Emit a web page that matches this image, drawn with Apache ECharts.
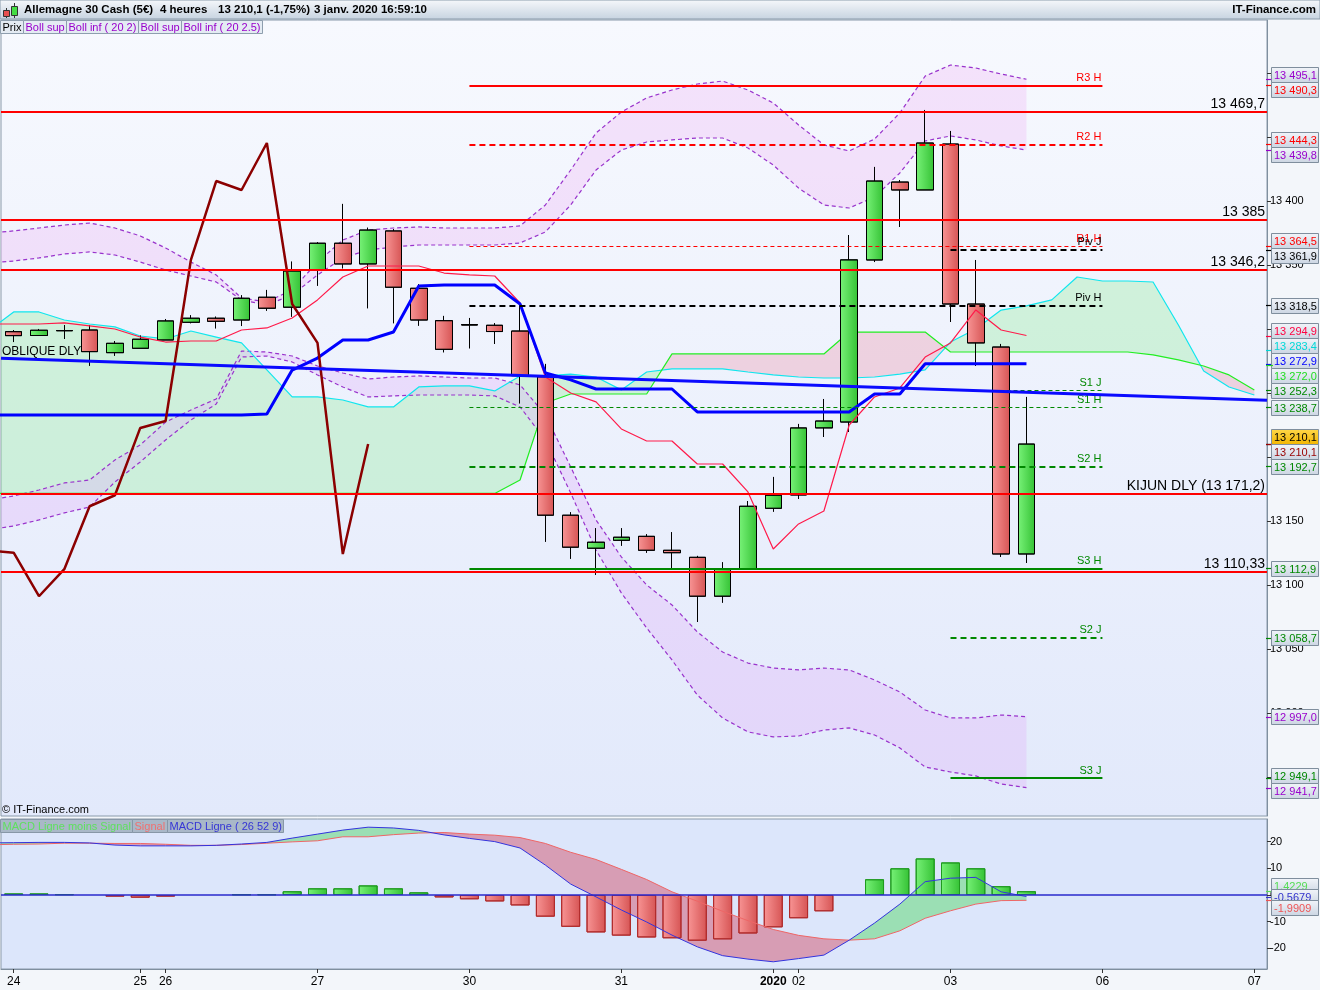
<!DOCTYPE html>
<html><head><meta charset="utf-8">
<script src="https://cdn.jsdelivr.net/npm/echarts@6/dist/echarts.min.js"></script>
<style>html,body{margin:0;padding:0;background:#f3f6fa}#c{width:1320px;height:990px}</style>
</head><body><div id="c"></div>
<script>
// ---------------- DATA ----------------
const categories = ['24/12 #1','24/12 #2','24/12 #3','24/12 #4','24/12 #5','25/12 #1',
 '26/12 #1','26/12 #2','26/12 #3','26/12 #4','26/12 #5','26/12 #6',
 '27/12 #1','27/12 #2','27/12 #3','27/12 #4','27/12 #5','27/12 #6',
 '30/12 #1','30/12 #2','30/12 #3','30/12 #4','30/12 #5','30/12 #6',
 '31/12 #1','31/12 #2','31/12 #3','31/12 #4','31/12 #5','31/12 #6',
 '01/01 #1','02/01 #1','02/01 #2','02/01 #3','02/01 #4','02/01 #5','02/01 #6',
 '03/01 #1','03/01 #2','03/01 #3','03/01 #4','03/01 #5','03/01 #6',
 '06/01 #1','06/01 #2','06/01 #3','06/01 #4','06/01 #5','06/01 #6','07/01 #1'];
const xTickIndex = [0,5,6,12,18,24,30,31,37,43,49];
const xTickText = ['24','25','26','27','30','31','2020','02','03','06','07'];
const priceTicks = [12950,13000,13050,13100,13150,13200,13250,13300,13350,13400,13450,13500];
const macdTicks = [-20,-10,0,10,20];

const open  = [13297.9,13294.9,13298.8,13299.2,13281.5,13284.9,13291.4,13305.2,13308.4,13307.0,13324.8,13317.0,13346.1,13367.0,13350.8,13376.6,13331.8,13306.5,13303.4,13302.9,13298.4,13262.7,13154.5,13128.7,13134.9,13138.0,13127.1,13121.6,13091.2,13112.3,13159.9,13170.3,13222.7,13227.3,13353.9,13414.8,13408.6,13444.5,13319.5,13285.9,13124.2];
const close = [13294.8,13299.0,13298.6,13282.3,13288.8,13292.0,13306.3,13308.4,13306.0,13324.0,13316.2,13345.3,13367.0,13350.8,13377.3,13332.6,13307.0,13284.1,13303.1,13298.0,13263.5,13154.5,13129.5,13133.4,13137.3,13127.1,13125.2,13091.2,13112.3,13161.5,13170.1,13222.7,13228.1,13354.0,13415.6,13408.6,13445.3,13319.5,13289.1,13124.2,13210.1];
const low   = [13289.8,13294.9,13292.2,13271.3,13279.1,13284.9,13291.4,13304.5,13300.5,13302.3,13314.3,13309.6,13333.8,13347.4,13316.2,13304.5,13302.6,13281.8,13284.9,13288.3,13241.9,13133.8,13120.5,13107.8,13130.7,13125.2,13113.0,13071.1,13086.2,13111.7,13157.3,13167.2,13215.6,13219.5,13352.3,13379.7,13408.6,13305.5,13271.1,13121.9,13117.2];
const high  = [13299.2,13300.0,13303.1,13303.1,13290.6,13294.8,13307.8,13310.7,13309.6,13326.3,13330.5,13352.6,13367.7,13397.7,13379.1,13377.9,13334.9,13310.2,13308.6,13304.5,13318.0,13272.7,13156.8,13144.3,13144.3,13139.6,13141.2,13122.7,13117.7,13165.6,13184.4,13225.8,13245.3,13373.4,13426.6,13416.4,13471.1,13454.7,13353.9,13288.3,13246.9];

// indicator lines: first value sits one slot left of the first candle
const LINE_START = -1;
const bollSup25 = [13375.0,13376.6,13378.9,13381.2,13382.8,13378.9,13372.7,13363.3,13352.3,13342.2,13324.2,13321.1,13330.5,13352.3,13369.5,13377.3,13378.9,13379.7,13378.9,13378.9,13378.9,13380.5,13396.9,13424.2,13453.1,13469.5,13480.5,13486.7,13491.4,13493.7,13486.7,13476.6,13459.4,13443.8,13439.1,13448.4,13468.8,13497.6,13506.2,13503.9,13499.2,13495.1];
const bollSup2  = [13351.6,13353.1,13355.5,13358.6,13360.2,13357.8,13352.3,13346.1,13341.4,13336.7,13322.7,13318.7,13326.6,13342.2,13355.5,13361.7,13364.1,13365.6,13365.6,13365.6,13365.6,13367.2,13375.8,13396.9,13424.2,13439.8,13446.1,13447.7,13449.2,13449.2,13441.4,13428.1,13410.1,13396.9,13394.5,13403.1,13421.9,13446.9,13450.8,13447.7,13443.0,13439.8];
const bollInf2  = [13166.4,13169.5,13174.2,13179.7,13182.0,13197.7,13209.4,13227.3,13236.7,13245.3,13282.8,13282.0,13278.9,13271.1,13265.6,13260.9,13262.5,13263.3,13262.5,13261.7,13261.7,13256.3,13232.8,13192.2,13150.8,13121.9,13100.0,13084.4,13063.3,13047.6,13039.0,13035.1,13033.6,13035.1,13033.6,13025.8,13016.4,13002.3,12996.1,12996.1,12998.4,12997.0];
const bollInf25 = [13143.0,13146.1,13150.8,13156.3,13160.9,13180.5,13196.1,13213.3,13228.9,13241.4,13278.1,13278.9,13274.2,13264.1,13254.7,13246.9,13247.7,13248.4,13248.4,13248.4,13247.7,13239.1,13213.3,13171.9,13127.3,13093.8,13066.4,13041.4,13014.0,12996.1,12985.2,12981.3,12982.0,12986.7,12988.3,12982.8,12972.7,12957.8,12953.9,12950.8,12944.5,12941.7];
const tenkan = [13303.9,13303.9,13303.9,13304.7,13302.4,13300.0,13293.7,13289.8,13290.6,13290.6,13299.2,13300.8,13308.6,13322.7,13340.6,13349.2,13349.2,13349.2,13343.7,13342.2,13341.4,13320.3,13262.5,13250.0,13243.0,13221.9,13212.5,13212.5,13194.5,13194.5,13172.7,13128.1,13147.7,13157.8,13225.0,13246.9,13253.9,13278.1,13289.1,13314.9,13299.2,13294.9];
const kijun = [13232.8,13232.8,13232.8,13232.8,13232.8,13232.8,13232.8,13232.8,13232.8,13232.8,13232.8,13233.6,13267.9,13277.3,13291.4,13291.4,13297.6,13333.6,13334.4,13334.4,13334.4,13319.5,13265.6,13260.2,13253.1,13253.1,13253.1,13253.1,13235.2,13235.2,13235.2,13235.2,13235.2,13235.2,13235.2,13249.2,13249.2,13272.9,13272.9,13272.9,13272.9,13272.9];
const ssa = [13298.4,13313.3,13313.3,13307.0,13303.9,13301.6,13294.5,13292.2,13298.4,13293.7,13289.1,13268.0,13246.9,13246.9,13244.5,13239.1,13239.1,13254.7,13255.5,13255.5,13251.6,13263.3,13263.3,13264.8,13262.5,13252.4,13266.4,13268.8,13268.8,13268.8,13266.4,13264.1,13262.5,13261.7,13261.7,13262.5,13264.8,13268.0,13289.8,13300.0,13314.8,13318.0,13322.7,13340.6,13337.5,13337.5,13336.7,13303.1,13267.2,13254.7,13248.4];
const ssb = [13171.5,13171.5,13171.5,13171.5,13171.5,13171.5,13171.5,13171.5,13171.5,13171.5,13171.5,13171.5,13171.5,13171.5,13171.5,13171.5,13171.5,13171.5,13171.5,13171.5,13171.5,13182.0,13242.2,13249.2,13249.2,13249.2,13249.2,13280.5,13280.5,13280.5,13280.5,13280.5,13280.5,13280.5,13297.6,13297.6,13297.6,13297.6,13282.0,13282.0,13282.0,13282.0,13282.0,13282.0,13282.0,13282.0,13279.7,13275.8,13271.1,13264.1,13252.4];
const chikou = [13127.1,13125.2,13091.2,13112.3,13161.5,13170.1,13222.7,13228.1,13354.0,13415.6,13408.6,13445.3,13319.5,13289.1,13124.2,13210.1];

const obliqueX = [-0.5, 49.5];
const obliqueY = [13277.1, 13244.3];

const redLevels = [13469.7, 13385, 13346.2, 13171.2, 13110.33];
const redLevelLabels = ['13 469,7','13 385','13 346,2','KIJUN DLY (13 171,2)','13 110,33'];

const pivotHNames  = ['R3 H','R2 H','R1 H','Piv H','S1 H','S2 H','S3 H'];
const pivotHValues = [13490.3, 13444.3, 13364.5, 13318.5, 13238.7, 13192.7, 13112.9];
const pivotHFrom = 18, pivotHTo = 43;
const pivotJNames  = ['Piv J','S1 J','S2 J','S3 J'];
const pivotJValues = [13361.9, 13252.3, 13058.7, 12949.1];
const pivotJFrom = 37, pivotJTo = 43;

const macdLine = [19.5,19.6,19.7,19.7,19.5,18.7,18.4,18.4,18.4,18.6,19.1,19.7,21.3,22.8,24.3,25.4,25.1,24.2,22.5,21.2,20.0,17.6,11.2,4.1,-0.7,-5.6,-10.1,-15.0,-19.4,-22.7,-24.0,-25.0,-23.8,-22.5,-16.9,-10.5,-3.4,5.0,6.3,6.6,1.2,-0.57];
const signalLine = [18.8,19.0,19.1,19.4,19.4,19.3,19.3,19.0,18.6,18.6,18.9,19.4,19.9,20.3,21.8,21.8,22.6,23.2,23.4,22.8,22.4,21.5,19.3,16.0,13.3,9.6,5.8,1.2,-2.3,-6.1,-9.6,-12.9,-15.1,-16.4,-16.9,-16.4,-13.4,-8.7,-5.9,-3.4,-2.1,-1.99];
const macdHist = [0.6,0.6,0.3,0,-0.6,-1.0,-0.6,0,0,0.25,0.25,1.4,2.5,2.5,3.6,2.5,1.0,-0.9,-1.6,-2.4,-3.9,-8.1,-11.9,-14.0,-15.2,-15.9,-16.2,-17.1,-16.6,-14.4,-12.1,-8.7,-6.1,0,5.9,10.0,13.7,12.2,10.0,3.3,1.42];

const tagValues = [13495.1,13490.3,13444.3,13439.8,13364.5,13361.9,13318.5,13294.9,13283.4,13272.9,13272.0,13252.3,13238.7,13210.1,13210.1,13192.7,13112.9,13058.7,12997.0,12949.1,12941.7];
const macdTagValues = [1.4229, -0.5679, -1.9909];

// ---------------- STYLE / LAYOUT ----------------
const tagColors = ['#9900cc','#ff0000','#ff0000','#9900cc','#ff0000','#000000','#000000','#ff0040','#00d8d8','#0000ff','#22dd22','#008800','#008800','#000000','#990000','#008800','#008800','#008800','#9900cc','#008800','#9900cc'];
const goldTag = 13;
const macdTagColors = ['#55dd55','#3333cc','#ee5555'];
const FONT = '"Liberation Sans", Arial, sans-serif';
const PRICE_MIN = 12919.5, PRICE_MAX = 13541.4;
const MACD_MIN = -27.7, MACD_MAX = 28.46;
const G = echarts.graphic.LinearGradient;
const upFill = () => new G(0,0,1,0,[{offset:0,color:'#78f278'},{offset:1,color:'#35c235'}]);
const dnFill = () => new G(0,0,1,0,[{offset:0,color:'#f89595'},{offset:1,color:'#d65454'}]);

function seqX(start, n){ const a=[]; for(let i=0;i<n;i++) a.push(start+i); return a; }
function fmtNum(v, dec){ const s=Math.abs(v).toFixed(dec); let parts=s.split('.'); let ip=parts[0].replace(/\B(?=(\d{3})+(?!\d))/g,' '); return (v<0?'-':'')+ip+(parts[1]?','+parts[1]:''); }

function fillBetween(xs, a, b, colPos, colNeg){
  return function(params, api){
    const polys=[]; let top=[], bot=[], sign=null;
    function flush(){ if(top.length>1) polys.push({type:'polygon', shape:{points: top.concat(bot.slice().reverse())}, style:{fill: sign>0?colPos:colNeg}}); }
    for(let i=0;i<xs.length;i++){
      const d=a[i]-b[i]; const s=d>=0?1:-1;
      if(sign===null) sign=s;
      else if(s!==sign){
        const dp=a[i-1]-b[i-1]; const t=dp/(dp-d);
        const xc=xs[i-1]+t*(xs[i]-xs[i-1]); const yc=a[i-1]+t*(a[i]-a[i-1]);
        const pc=api.coord([xc,yc]);
        top.push(pc); bot.push(pc); flush();
        top=[pc]; bot=[pc]; sign=s;
      }
      top.push(api.coord([xs[i],a[i]])); bot.push(api.coord([xs[i],b[i]]));
    }
    flush();
    return {type:'group', children: polys};
  };
}

function lineSeries(xs, ys, color, width, type, xi, yi, z, id){
  return {type:'line', id:id, xAxisIndex:xi, yAxisIndex:yi, data: ys.map((y,i)=>[xs[i],y]), showSymbol:false, symbol:'none',
    lineStyle:{color:color, width:width, type:type||'solid'}, z:z||4, silent:true, clip:true, animation:false};
}

const xBoll = seqX(LINE_START, bollSup25.length);
const xCloud = seqX(LINE_START, ssa.length);
const xChikou = seqX(LINE_START, chikou.length);
const xMacd = seqX(LINE_START, macdLine.length);

function pivotStyle(name){
  const c = name[0]==='R' ? '#ff0000' : (name[0]==='S' ? '#008800' : '#000000');
  if (name.indexOf('3')>=0) return {color:c, width:2, type:'solid'};
  if (name.indexOf('1')>=0) return {color:c, width:1, type:[4,3]};
  return {color:c, width:2.2, type:[6,4]};
}
function pivotLines(names, values, from, to){
  return names.map((n,i)=>{
    const st=pivotStyle(n);
    return [{coord:[from, values[i]], lineStyle:st,
      label:{show:true, position:'insideEndTop', formatter:n, color:st.color, fontSize:11, fontFamily:FONT, distance:[1,2]}},
      {coord:[to, values[i]]}];
  });
}

const tickFn = (idx) => xTickIndex.indexOf(idx) >= 0;
const lblFn = (val, idx) => { const k=xTickIndex.indexOf(idx); if(k<0) return ''; const t=xTickText[k]; return t==='2020' ? '{b|2020}' : t; };

const chart = echarts.init(document.getElementById('c'), null, {renderer:'canvas'});
const option = {
  animation:false,
  backgroundColor:'#f3f6fa',
  textStyle:{fontFamily:FONT},
  grid:[
    {left:1, top:20, width:1266, height:796, show:true, borderColor:'#8a9aaa', borderWidth:1,
     backgroundColor:new G(0,0,0,1,[{offset:0,color:'#f7f9fe'},{offset:1,color:'#e2e9fb'}])},
    {left:1, top:819, width:1266, height:150, show:true, borderColor:'#8a9aaa', borderWidth:1, backgroundColor:'#dce6fb'}
  ],
  xAxis:[
    {type:'category', gridIndex:0, data:categories, show:false, boundaryGap:true, axisLine:{onZero:false}},
    {type:'category', gridIndex:1, data:categories, boundaryGap:true, position:'bottom',
     axisLine:{show:true, onZero:false, lineStyle:{color:'#7f8f9f'}},
     axisTick:{show:true, alignWithLabel:true, interval:tickFn, length:4, lineStyle:{color:'#333'}},
     axisLabel:{interval:tickFn, formatter:lblFn, color:'#000', fontSize:12, margin:7, fontFamily:FONT,
       rich:{b:{fontWeight:'bold', fontSize:12, color:'#000', fontFamily:FONT}}},
     splitLine:{show:false}},
    {type:'value', gridIndex:0, min:-0.5, max:49.5, show:false, axisLine:{onZero:false}},
    {type:'value', gridIndex:1, min:-0.5, max:49.5, show:false, axisLine:{onZero:false}}
  ],
  yAxis:[
    {type:'value', gridIndex:0, position:'right', min:PRICE_MIN, max:PRICE_MAX,
     axisLine:{show:true, onZero:false, lineStyle:{color:'#7f8f9f'}},
     axisTick:{show:true, customValues:priceTicks, length:4, lineStyle:{color:'#333'}},
     axisLabel:{customValues:priceTicks, formatter:(v)=>fmtNum(v,0), color:'#000', fontSize:11, margin:3, fontFamily:FONT},
     splitLine:{show:false}},
    {type:'value', gridIndex:1, position:'right', min:MACD_MIN, max:MACD_MAX,
     axisLine:{show:true, onZero:false, lineStyle:{color:'#7f8f9f'}},
     axisTick:{show:true, customValues:macdTicks, length:4, lineStyle:{color:'#333'}},
     axisLabel:{customValues:macdTicks, formatter:(v)=>String(v), color:'#000', fontSize:11, margin:3, fontFamily:FONT},
     splitLine:{show:false}}
  ],
  series:[
    // fills
    {type:'custom', xAxisIndex:2, yAxisIndex:0, z:1, silent:true, clip:true, data:[[0,13300]], encode:{x:0,y:1},
     renderItem: fillBetween(xCloud, ssa, ssb, 'rgba(140,235,150,0.32)', 'rgba(235,140,165,0.32)')},
    {type:'custom', xAxisIndex:2, yAxisIndex:0, z:1, silent:true, clip:true, data:[[0,13300]], encode:{x:0,y:1},
     renderItem: fillBetween(xBoll, bollSup25, bollSup2, 'rgba(238,180,245,0.32)', 'rgba(238,180,245,0.32)')},
    {type:'custom', xAxisIndex:2, yAxisIndex:0, z:1, silent:true, clip:true, data:[[0,13300]], encode:{x:0,y:1},
     renderItem: fillBetween(xBoll, bollInf2, bollInf25, 'rgba(225,185,250,0.38)', 'rgba(225,185,250,0.38)')},
    // bollinger
    lineSeries(xBoll, bollSup25, '#9933cc', 1.2, [4,3], 2, 0, 2),
    lineSeries(xBoll, bollSup2, '#9933cc', 1.2, [4,3], 2, 0, 2),
    lineSeries(xBoll, bollInf2, '#9933cc', 1.2, [4,3], 2, 0, 2),
    lineSeries(xBoll, bollInf25, '#9933cc', 1.2, [4,3], 2, 0, 2),
    // cloud lines
    lineSeries(xCloud, ssa, '#10e6ee', 1.2, 'solid', 2, 0, 2),
    lineSeries(xCloud, ssb, '#22ee22', 1.2, 'solid', 2, 0, 2),
    // candles
    {type:'candlestick', xAxisIndex:0, yAxisIndex:0, barWidth:17, z:3, silent:true,
     data: open.map((o,i)=>[o, close[i], low[i], high[i]]),
     itemStyle:{color:upFill(), color0:dnFill(), borderColor:'#000', borderColor0:'#000', borderWidth:1}},
    // ichimoku lines
    lineSeries(xBoll, tenkan, '#ff1a4a', 1.2, 'solid', 2, 0, 4),
    lineSeries(xBoll, kijun, '#0000ff', 3, 'solid', 2, 0, 4),
    lineSeries(xChikou, chikou, '#8b0000', 2.5, 'solid', 2, 0, 4),
    // oblique + reference levels
    Object.assign(lineSeries(obliqueX, obliqueY, '#0a0aff', 3, 'solid', 2, 0, 5, 'oblique'), {
      markLine:{silent:true, symbol:['none','none'], animation:false, z:5,
        data: redLevels.map((v,i)=>({yAxis:v, lineStyle:{color:'#ff0000', width:2, type:'solid'},
          label:{show:true, position:'insideEndTop', formatter:redLevelLabels[i], color:'#000', fontSize:14, fontFamily:FONT, distance:[2,1]}}))
          .concat(pivotLines(pivotHNames, pivotHValues, pivotHFrom, pivotHTo))
          .concat(pivotLines(pivotJNames, pivotJValues, pivotJFrom, pivotJTo))
      }
    }),
    // MACD
    {type:'custom', xAxisIndex:3, yAxisIndex:1, z:1, silent:true, clip:true, data:[[0,0]], encode:{x:0,y:1},
     renderItem: fillBetween(xMacd, macdLine, signalLine, 'rgba(90,215,110,0.5)', 'rgba(210,90,115,0.52)')},
    {type:'bar', xAxisIndex:1, yAxisIndex:1, barWidth:19, z:3, silent:true,
     data: macdHist.map(v => v===0 ? {value:0, itemStyle:{opacity:0, borderWidth:0}} :
       {value:v, itemStyle: v>0 ? {color:upFill(), borderColor:'#1f9a1f', borderWidth:1} : {color:dnFill(), borderColor:'#b02a2a', borderWidth:1}}),
     markLine:{silent:true, symbol:['none','none'], animation:false, label:{show:false},
       data:[{yAxis:0, lineStyle:{color:'#2a2acc', width:1.5, type:'solid'}}]}},
    lineSeries(xMacd, signalLine, '#ee6666', 1, 'solid', 3, 1, 4),
    lineSeries(xMacd, macdLine, '#3333dd', 1, 'solid', 3, 1, 4)
  ]
};
chart.setOption(option);

// ---------------- overlay texts / tags ----------------
const mctx = document.createElement('canvas').getContext('2d');
function textW(t, font){ mctx.font = font; return mctx.measureText(t).width; }

function relax(items, gap, lo, hi){
  items.forEach((t,i)=>{ t.p=t.y; t.k=i; });
  for(let it=0; it<300; it++){
    const s = items.slice().sort((a,b)=> (a.p-b.p) || (a.k-b.k));
    let moved=false;
    for(let i=1;i<s.length;i++){
      const d=s[i].p-s[i-1].p;
      if(d<gap-0.01){ const o=(gap-d)/2; s[i-1].p-=o; s[i].p+=o; moved=true; }
    }
    s.forEach(t=>{ t.p=Math.max(lo, Math.min(hi, t.p)); });
    if(!moved) break;
  }
}

const gr = [];
const hdrGrad = new G(0,0,0,1,[{offset:0,color:'#f6f8fb'},{offset:1,color:'#c6d3e0'}]);
gr.push({type:'rect', z:100, shape:{x:0,y:0,width:1320,height:19}, style:{fill:hdrGrad, stroke:'#8a9bab', lineWidth:1}});
// icon
gr.push({type:'line', z:101, shape:{x1:6.5,y1:8,x2:6.5,y2:18}, style:{stroke:'#333', lineWidth:1}});
gr.push({type:'rect', z:102, shape:{x:3.5,y:10.5,width:6,height:6}, style:{fill:'#e85050', stroke:'#333', lineWidth:1}});
gr.push({type:'line', z:101, shape:{x1:14.5,y1:3,x2:14.5,y2:18}, style:{stroke:'#333', lineWidth:1}});
gr.push({type:'rect', z:102, shape:{x:11.5,y:6.5,width:6,height:9}, style:{fill:'#44dd44', stroke:'#333', lineWidth:1}});
const hdrFont = 'bold 11.5px ' + FONT;
[['Allemagne 30 Cash (5€)',24],['4 heures',160],['13 210,1 (-1,75%)',218],['3 janv. 2020 16:59:10',314]].forEach(p=>{
  gr.push({type:'text', z:103, x:p[1], y:10, style:{text:p[0], font:hdrFont, fill:'#000', verticalAlign:'middle', align:'left'}});
});
gr.push({type:'text', z:103, x:1316, y:10, style:{text:'IT-Finance.com', font:hdrFont, fill:'#000', verticalAlign:'middle', align:'right'}});

function legendRow(items, y, h, fill, stroke){
  let x = 0.5;
  const font = '11px ' + FONT;
  items.forEach(it=>{
    const w = Math.round(textW(it[0], font) + 4);
    gr.push({type:'rect', z:100, shape:{x:x, y:y+0.5, width:w, height:h}, style:{fill:fill, stroke:stroke, lineWidth:1}});
    gr.push({type:'text', z:101, x:x+2, y:y+h/2+1, style:{text:it[0], font:font, fill:it[1], verticalAlign:'middle', align:'left'}});
    x += w;
  });
}
legendRow([['Prix','#000'],['Boll sup','#9900cc'],['Boll inf ( 20 2)','#9900cc'],['Boll sup','#9900cc'],['Boll inf ( 20 2.5)','#9900cc']], 20, 13, '#e4ebf3', '#8e9eae');
legendRow([['MACD Ligne moins Signal','#5ee05e'],['Signal','#f07070'],['MACD Ligne ( 26 52 9)','#3535d5']], 819, 13, '#a9b8c8', '#8797a7');
gr.push({type:'text', z:101, x:2, y:810, style:{text:'© IT-Finance.com', font:'11px '+FONT, fill:'#000', verticalAlign:'middle', align:'left'}});

// OBLIQUE DLY label
const obl = chart.convertToPixel({seriesId:'oblique'}, [obliqueX[0], obliqueY[0]]);
gr.push({type:'text', z:101, x:2, y:obl[1]-1, style:{text:'OBLIQUE DLY', font:'12px '+FONT, fill:'#000', verticalAlign:'bottom', align:'left'}});

// price tags
function addTags(values, colors, dec, axisIdx, gap, lo, hi, gold){
  const items = values.map((v,i)=>({v:v, c:colors[i], y: chart.convertToPixel({yAxisIndex:axisIdx}, v)}));
  relax(items, gap, lo, hi);
  const font = '11px ' + FONT;
  items.forEach((t,i)=>{
    gr.push({type:'line', z:104+i*3, shape:{x1:1266, y1:Math.round(t.y)+0.5, x2:1273, y2:Math.round(t.y)+0.5}, style:{stroke:t.c, lineWidth:1.2}});
    const isGold = (gold===i);
    const fill = isGold ? new G(0,0,0,1,[{offset:0,color:'#ffd84a'},{offset:1,color:'#f2b500'}])
                        : new G(0,0,0,1,[{offset:0,color:'#f2f5fa'},{offset:1,color:'#cbd5e2'}]);
    const top = Math.round(t.p - 7.5) + 0.5;
    gr.push({type:'rect', z:105+i*3, shape:{x:1271.5, y:top, width:47, height:15}, style:{fill:fill, stroke:'#7f8e9d', lineWidth:1}});
    gr.push({type:'text', z:106+i*3, x:1274, y:top+8, style:{text:fmtNum(t.v, dec), font:font, fill: isGold?'#000':t.c, verticalAlign:'middle', align:'left'}});
  });
}
addTags(tagValues, tagColors, 1, 0, 15, 28, 808, goldTag);
addTags(macdTagValues, macdTagColors, 4, 1, 11, 826, 962, -1);

chart.setOption({graphic: gr});
</script></body></html>
